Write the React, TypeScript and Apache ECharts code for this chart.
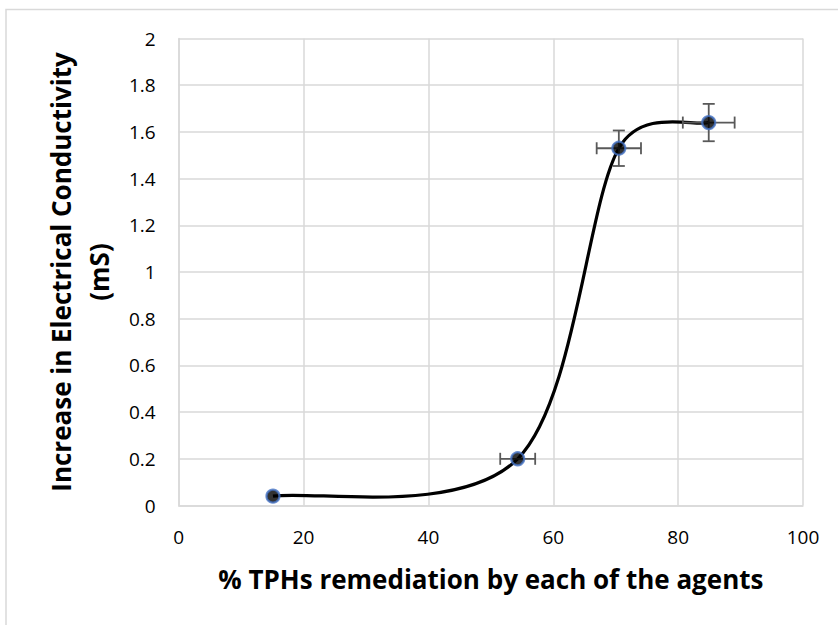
import React, { useEffect, useRef } from "react";
import * as echarts from "echarts";

// % TPHs remediation (x) vs increase in electrical conductivity (y)
const xValues = [15.1, 54.3, 70.5, 84.9];
const yValues = [0.04, 0.2, 1.53, 1.64];
const xErrors = [0, 2.8, 3.55, 4.15];
const yErrors = [0, 0, 0.076, 0.08];

const xAxisName = "% TPHs remediation by each of the agents";
const yAxisName = "Increase in Electrical Conductivity\n(mS)";

export default function App() {
  const ref = useRef<HTMLDivElement>(null);
  useEffect(() => {
    if (!ref.current) return;
    const chart = echarts.init(ref.current, undefined, { renderer: "svg" });
    const points = xValues.map((x, i) => [x, yValues[i]]);
    const errData = xValues.map((x, i) => [x, yValues[i], xErrors[i], yErrors[i]]);
    const gridColor = "#d9d9d9";
    const font = "'Open Sans', sans-serif";

    // Excel-like smoothed line: Catmull-Rom tangents (1/6) in pixel space,
    // limited to half of the segment length.
    const tangent = (px: number[][], i: number) => {
      const prev = px[Math.max(0, i - 1)];
      const next = px[Math.min(px.length - 1, i + 1)];
      return [(next[0] - prev[0]) / 6, (next[1] - prev[1]) / 6];
    };
    const limit = (t: number[], maxLen: number) => {
      const len = Math.hypot(t[0], t[1]);
      if (len <= maxLen || len === 0) return t;
      return [(t[0] * maxLen) / len, (t[1] * maxLen) / len];
    };

    chart.setOption({
      animation: false,
      backgroundColor: "#ffffff",
      graphic: [
        {
          type: "rect",
          shape: { x: 6, y: 9.5, width: 1000, height: 1000 },
          style: { fill: "none", stroke: gridColor, lineWidth: 1.5 },
          silent: true,
        },
      ],
      grid: { left: 178.7, right: 35, top: 38.5, bottom: 119.5 },
      xAxis: {
        type: "value",
        min: 0,
        max: 100,
        interval: 20,
        name: xAxisName,
        nameLocation: "middle",
        nameGap: 57,
        nameTextStyle: {
          fontFamily: font,
          fontWeight: "bold",
          fontSize: 26,
          lineHeight: 32,
          color: "#000",
        },
        axisLine: { show: true, lineStyle: { color: gridColor, width: 1.5 } },
        axisTick: { show: false },
        splitLine: { show: true, lineStyle: { color: gridColor, width: 1.5 } },
        axisLabel: { fontFamily: font, fontSize: 19, color: "#000", margin: 22 },
      },
      yAxis: {
        type: "value",
        min: 0,
        max: 2,
        interval: 0.2,
        name: yAxisName,
        nameLocation: "middle",
        nameRotate: 90,
        nameGap: 61,
        nameTextStyle: {
          fontFamily: font,
          fontWeight: "bold",
          fontSize: 26,
          color: "#000",
          lineHeight: 38,
          align: "center",
        },
        axisLine: { show: true, lineStyle: { color: gridColor, width: 1.5 } },
        axisTick: { show: false },
        splitLine: { show: true, lineStyle: { color: gridColor, width: 1.5 } },
        axisLabel: { fontFamily: font, fontSize: 19, color: "#000", margin: 23 },
      },
      series: [
        {
          type: "custom",
          data: points,
          encode: { x: 0, y: 1 },
          z: 2,
          renderItem: (params: any, api: any) => {
            const i = params.dataIndex;
            if (i >= points.length - 1) return { type: "group", children: [] };
            const px = points.map((p) => api.coord(p));
            const p0 = px[i];
            const p1 = px[i + 1];
            const segLen = Math.hypot(p1[0] - p0[0], p1[1] - p0[1]);
            const t0 = limit(tangent(px, i), segLen / 2);
            const t1 = limit(tangent(px, i + 1), segLen / 2);
            return {
              type: "bezierCurve",
              shape: {
                x1: p0[0],
                y1: p0[1],
                cpx1: p0[0] + t0[0],
                cpy1: p0[1] + t0[1],
                cpx2: p1[0] - t1[0],
                cpy2: p1[1] - t1[1],
                x2: p1[0],
                y2: p1[1],
              },
              style: { stroke: "#000", lineWidth: 3.2, fill: "none" },
            };
          },
        },
        {
          type: "custom",
          data: errData,
          encode: { x: 0, y: 1 },
          z: 3,
          renderItem: (params: any, api: any) => {
            const x = api.value(0);
            const y = api.value(1);
            const ex = api.value(2);
            const ey = api.value(3);
            const style = { stroke: "#595959", lineWidth: 1.8 };
            const cap = 6;
            const children: any[] = [];
            if (ex > 0) {
              const l = api.coord([x - ex, y]);
              const r = api.coord([x + ex, y]);
              children.push({ type: "line", shape: { x1: l[0], y1: l[1], x2: r[0], y2: r[1] }, style });
              children.push({ type: "line", shape: { x1: l[0], y1: l[1] - cap, x2: l[0], y2: l[1] + cap }, style });
              children.push({ type: "line", shape: { x1: r[0], y1: r[1] - cap, x2: r[0], y2: r[1] + cap }, style });
            }
            if (ey > 0) {
              const b = api.coord([x, y - ey]);
              const t = api.coord([x, y + ey]);
              children.push({ type: "line", shape: { x1: b[0], y1: b[1], x2: t[0], y2: t[1] }, style });
              children.push({ type: "line", shape: { x1: b[0] - cap, y1: b[1], x2: b[0] + cap, y2: b[1] }, style });
              children.push({ type: "line", shape: { x1: t[0] - cap, y1: t[1], x2: t[0] + cap, y2: t[1] }, style });
            }
            return { type: "group", children };
          },
        },
        {
          type: "scatter",
          data: points,
          symbol: "circle",
          symbolSize: 13,
          itemStyle: { color: "#000", borderColor: "#4472C4", borderWidth: 2.2 },
          z: 4,
        },
      ],
    });
    return () => chart.dispose();
  }, []);
  return (
    <div
      ref={ref}
      style={{ position: "fixed", left: 0, top: 0, width: 838, height: 625, background: "#fff" }}
    />
  );
}
